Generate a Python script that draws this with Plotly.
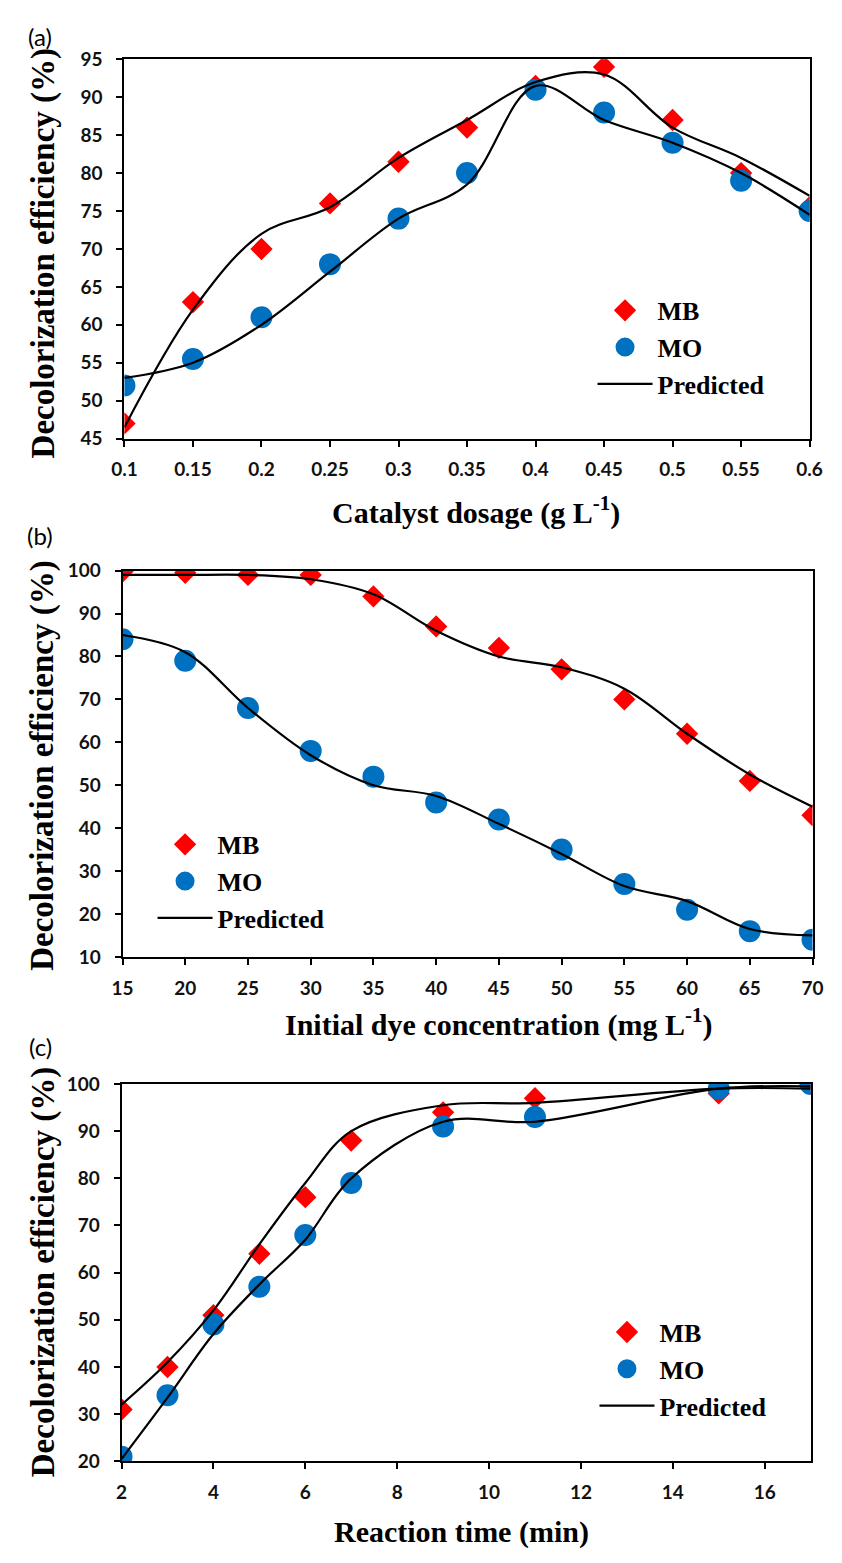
import plotly.graph_objects as go

W, H = 842, 1563

# ---------------- data ----------------
# Panel (a): catalyst dosage
a_x = [0.1, 0.15, 0.2, 0.25, 0.3, 0.35, 0.4, 0.45, 0.5, 0.55, 0.6]
a_ticks = [0.1, 0.15, 0.2, 0.25, 0.3, 0.35, 0.4, 0.45, 0.5, 0.55, 0.6]
a_ticktext = ["0.1", "0.15", "0.2", "0.25", "0.3", "0.35", "0.4", "0.45", "0.5", "0.55", "0.6"]
a_mb = [47, 63, 70, 76, 81.5, 86, 91.5, 94, 87, 80, 75.5]
a_mo = [52, 55.5, 61, 68, 74, 80, 91, 88, 84, 79, 75]
a_mb_pred = [46.5, 62, 72, 75.5, 82, 87, 92, 93, 86, 82, 77]
a_mo_pred = [53, 55, 60, 67, 74, 78.5, 91.5, 87, 84, 80, 74.5]

# Panel (b): initial dye concentration
b_x = [15, 20, 25, 30, 35, 40, 45, 50, 55, 60, 65, 70]
b_mb = [99.8, 99.5, 99, 99, 94, 87, 82, 77, 70, 62, 51, 43]
b_mo = [84, 79, 68, 58, 52, 46, 42, 35, 27, 21, 16, 14]
b_mb_pred = [99, 99, 99, 98, 94.5, 86, 80, 77.5, 72.5, 62, 52.5, 45]
b_mo_pred = [85, 81, 68, 57, 50, 47.5, 41, 34, 26.5, 23, 16.5, 15]

# Panel (c): reaction time
c_x = [2, 3, 4, 5, 6, 7, 9, 11, 15, 17]
c_mb = [31, 40, 51, 64, 76, 88, 94, 97, 98, 100]
c_mo = [21, 34, 49, 57, 68, 79, 91, 93, 99, 100]
c_mb_pred = [32, 41, 52, 66, 79, 90, 95.5, 96, 99, 99]
c_mo_pred = [20.5, 33.5, 47, 57.5, 67, 80, 92, 92, 99, 99.5]

panel_labels = ["(a)", "(b)", "(c)"]
x_titles = ["Catalyst dosage (g L<sup>-1</sup>)",
            "Initial dye concentration (mg L<sup>-1</sup>)",
            "Reaction time (min)"]
y_title = "Decolorization efficiency (%)"
series_names = ["MB", "MO", "Predicted"]

# ---------------- styling ----------------
RED = "#FF0000"
BLUE = "#0070C0"
SERIF = "Liberation Serif, Times New Roman, serif"
SANS = "Lato, Carlito, Calibri, sans-serif"


def px_x(p):
    return p / W


def px_y(p):
    return 1 - p / H


# plot-area pixel boxes (left, right, top, bottom)
boxes = [(115, 822, 48, 433), (113, 825, 567, 959), (112, 823, 1088, 1471)]

fig = go.Figure()

panels = [
    (a_x, a_mb, a_mo, a_mb_pred, a_mo_pred),
    (b_x, b_mb, b_mo, b_mb_pred, b_mo_pred),
    (c_x, c_mb, c_mo, c_mb_pred, c_mo_pred),
]

for i, (xs, mb, mo, mbp, mop) in enumerate(panels):
    k = "" if i == 0 else str(i + 1)
    xa, ya = "x" + k, "y" + k
    leg = "legend" + k
    fig.add_trace(go.Scatter(
        x=xs, y=mb, mode="markers", name=series_names[0], xaxis=xa, yaxis=ya,
        legend=leg,
        marker=dict(symbol="diamond", size=15, color=RED, line=dict(color=RED, width=2))))
    fig.add_trace(go.Scatter(
        x=xs, y=mo, mode="markers", name=series_names[1], xaxis=xa, yaxis=ya,
        legend=leg,
        marker=dict(symbol="circle", size=19, color=BLUE, line=dict(color=BLUE, width=3))))
    fig.add_trace(go.Scatter(
        x=xs, y=mbp, mode="lines", name=series_names[2], xaxis=xa, yaxis=ya,
        legend=leg, legendgroup="pred" + k,
        line=dict(color="black", width=2.2, shape="spline", smoothing=1.0)))
    fig.add_trace(go.Scatter(
        x=xs, y=mop, mode="lines", name=series_names[2], xaxis=xa, yaxis=ya,
        legend=leg, legendgroup="pred" + k, showlegend=False,
        line=dict(color="black", width=2.2, shape="spline", smoothing=1.0)))

axis_common = dict(
    showline=True, linecolor="black", linewidth=2, mirror=True,
    ticks="outside", ticklen=6, tickwidth=2, tickcolor="black",
    showgrid=False, zeroline=False,
    tickfont=dict(family=SANS, size=19, color="#111111", weight="bold"),
)

x_cfg = [
    dict(range=[0.1, 0.6], tickvals=a_ticks, ticktext=a_ticktext),
    dict(range=[15, 70], dtick=5, tick0=15),
    dict(range=[2, 17], dtick=2, tick0=2),
]
y_cfg = [
    dict(range=[45, 95], dtick=5),
    dict(range=[10, 100], dtick=10),
    dict(range=[20, 100], dtick=10),
]

layout = dict(
    width=W, height=H,
    margin=dict(l=0, r=0, t=0, b=0),
    paper_bgcolor="white", plot_bgcolor="white",
    showlegend=True,
)

for i, (l, r, t, b) in enumerate(boxes):
    k = "" if i == 0 else str(i + 1)
    layout["xaxis" + k] = dict(domain=[px_x(l), px_x(r)], anchor="y" + k,
                               ticklabelstandoff=7, **x_cfg[i], **axis_common)
    layout["yaxis" + k] = dict(domain=[px_y(b), px_y(t)], anchor="x" + k,
                               ticklabelstandoff=10, **y_cfg[i], **axis_common)

leg_font = dict(family=SERIF, size=26, color="black", weight="bold")
leg_pos = [(598, 279), (144, 821), (600, 1316)]
for i, (lx, ly) in enumerate(leg_pos):
    k = "" if i == 0 else str(i + 1)
    layout["legend" + k] = dict(
        x=px_x(lx), y=px_y(ly), xanchor="left", yanchor="top",
        bgcolor="rgba(0,0,0,0)", borderwidth=0, font=leg_font,
        itemwidth=55, tracegroupgap=0, traceorder="normal",
    )

fig.update_layout(**layout)

# panel labels
label_pos = [(28, 25), (28, 531), (28, 1050)]
for txt, (lx, ly) in zip(panel_labels, label_pos):
    fig.add_annotation(text=txt, x=px_x(lx), y=px_y(ly), xref="paper", yref="paper",
                       showarrow=False, xanchor="center", yanchor="middle",
                       font=dict(family=SANS, size=24, color="black"))

# x titles
xt_pos = [(478, 506), (501, 1026), (463, 1543)]
for txt, (tx, ty) in zip(x_titles, xt_pos):
    fig.add_annotation(text=txt, x=px_x(tx), y=px_y(ty), xref="paper", yref="paper",
                       showarrow=False, xanchor="center", yanchor="middle",
                       font=dict(family=SERIF, size=30, color="black", weight="bold"))

# y titles
yt_pos = [(31, 245), (31, 765), (31, 1279)]
for (tx, ty) in yt_pos:
    fig.add_annotation(text=y_title, x=px_x(tx), y=px_y(ty), xref="paper", yref="paper",
                       showarrow=False, xanchor="center", yanchor="middle", textangle=-90,
                       font=dict(family=SERIF, size=33, color="black", weight="bold"))

fig.write_html(
    "out.html",
    config={"displayModeBar": False},
    post_script="document.body.style.margin='0';document.body.style.padding='0';"
                "document.body.style.overflow='hidden';",
)
